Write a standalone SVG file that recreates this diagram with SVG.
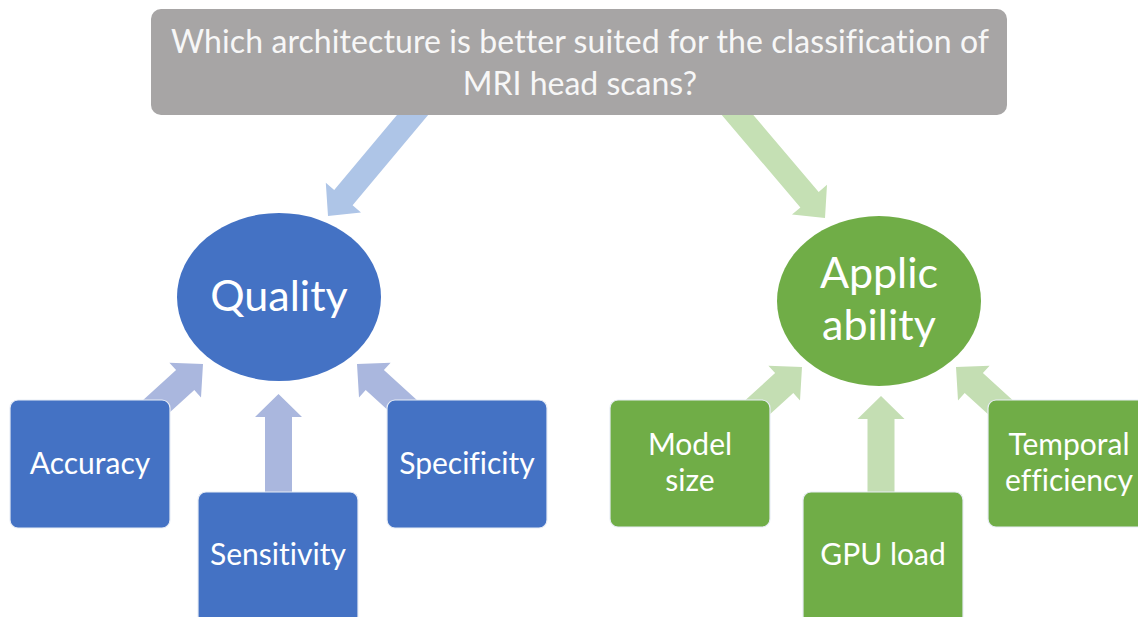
<svg xmlns="http://www.w3.org/2000/svg" width="1138" height="617" viewBox="0 0 1138 617">
  <style>
    .lbl { font-family: Lato, "Open Sans", "Liberation Sans", sans-serif; fill: #ffffff; text-anchor: middle; font-variant-ligatures: none; }
    .title { font-size: 32px; fill: #f7f7f7; }
    .box-text { font-size: 30px; }
    .hub-text { font-size: 43px; }
    .blue { fill: #4472C4; }
    .green { fill: #70AD47; }
    .box { stroke: #e8edf6; stroke-width: 1.2; }
    .arrow-blue-big { fill: #AEC5E7; }
    .arrow-blue { fill: #AAB7DE; }
    .arrow-green-big { fill: #C5E0B4; }
    .arrow-green { fill: #C4DEB3; }
  </style>
  <rect width="1138" height="617" fill="#ffffff"/>

  <!-- connectors, drawn first so the nodes cover their tails -->
  <g id="connectors">
    <polygon id="q-to-quality" class="arrow-blue-big" points="416.0,92.2 334.2,189.9 325.8,182.8 328,216 361.0,212.4 352.6,205.3 434.4,107.6"/>
    <polygon id="q-to-applicability" class="arrow-green-big" points="715.4,107.6 800.4,207.5 792.0,214.6 825,218 827.0,184.8 818.7,191.9 733.7,92.0"/>

    <polygon id="accuracy-to-quality" class="arrow-blue" points="149.8,430.4 194.3,390.1 201.0,397.5 203,364 169.4,362.7 176.1,370.1 131.6,410.4"/>
    <polygon id="sensitivity-to-quality" class="arrow-blue" points="265,505 265,417 255,417 278.5,394 302,417 292,417 292,505"/>
    <polygon id="specificity-to-quality" class="arrow-blue" points="410.2,430.4 365.7,390.1 359.0,397.5 357,364 390.6,362.7 383.9,370.1 428.4,410.4"/>

    <polygon id="modelsize-to-applicability" class="arrow-green" points="748.8,433.4 793.3,393.1 800.0,400.5 802,367 768.4,365.7 775.1,373.1 730.6,413.4"/>
    <polygon id="gpuload-to-applicability" class="arrow-green" points="867.5,505 867.5,419 857.5,419 881,396 904.5,419 894.5,419 894.5,505"/>
    <polygon id="temporal-to-applicability" class="arrow-green" points="1009.2,433.4 964.7,393.1 958.0,400.5 956,367 989.6,365.7 982.9,373.1 1027.4,413.4"/>
  </g>

  <!-- question -->
  <g id="question">
    <rect x="151" y="9" width="856" height="106" rx="10" fill="#A7A5A5"/>
    <text class="lbl title" x="580" y="53" textLength="818">Which architecture is better suited for the classification of</text>
    <text class="lbl title" x="580" y="95">MRI head scans?</text>
  </g>

  <!-- hubs -->
  <g id="quality">
    <ellipse class="blue" cx="279" cy="297" rx="102" ry="84"/>
    <text class="lbl hub-text" x="279" y="311">Quality</text>
  </g>
  <g id="applicability">
    <ellipse class="green" cx="879" cy="301" rx="102" ry="85"/>
    <text class="lbl hub-text" x="879" y="288">Applic</text>
    <text class="lbl hub-text" x="879" y="340">ability</text>
  </g>

  <!-- quality criteria -->
  <g id="accuracy">
    <rect class="blue box" x="10" y="400" width="160" height="128" rx="8"/>
    <text class="lbl box-text" x="90" y="474">Accuracy</text>
  </g>
  <g id="sensitivity">
    <rect class="blue box" x="198" y="492" width="160" height="132" rx="8"/>
    <text class="lbl box-text" x="278" y="565">Sensitivity</text>
  </g>
  <g id="specificity">
    <rect class="blue box" x="387" y="400" width="160" height="128" rx="8"/>
    <text class="lbl box-text" x="467" y="474">Specificity</text>
  </g>

  <!-- applicability criteria -->
  <g id="model-size">
    <rect class="green box" x="610" y="400" width="160" height="127" rx="8"/>
    <text class="lbl box-text" x="690" y="455">Model</text>
    <text class="lbl box-text" x="690" y="491">size</text>
  </g>
  <g id="gpu-load">
    <rect class="green box" x="803" y="492" width="160" height="132" rx="8"/>
    <text class="lbl box-text" x="883" y="565">GPU load</text>
  </g>
  <g id="temporal-efficiency">
    <rect class="green box" x="988" y="400" width="160" height="127" rx="8"/>
    <text class="lbl box-text" x="1069" y="455">Temporal</text>
    <text class="lbl box-text" x="1069" y="491">efficiency</text>
  </g>
</svg>
